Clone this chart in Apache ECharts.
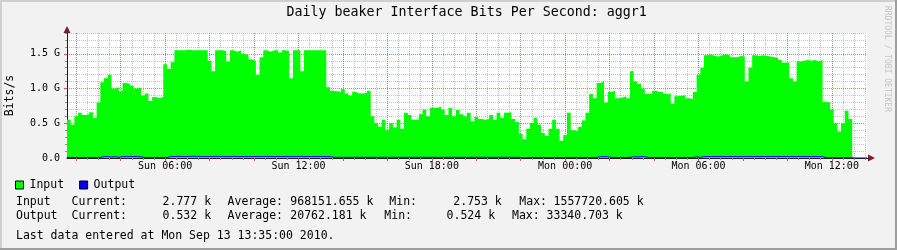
<!DOCTYPE html>
<html><head><meta charset="utf-8">
<script src="https://cdn.jsdelivr.net/npm/echarts@6/dist/echarts.min.js"></script>
<style>html,body{margin:0;padding:0;background:#F2F2F2}#c{width:897px;height:250px}</style>
</head><body><div id="c"></div>
<script>
const titleText = 'Daily beaker Interface Bits Per Second: aggr1';
const startHour = 1 + 35 / 60;   // Sun 01:35
const endHour = 37 + 35 / 60;    // Mon 13:35
const stepHours = 10 / 60;       // 10-minute samples

const inputG = [
  0.55,0.48,0.60,0.65,0.62,0.63,0.66,0.58,0.80,1.09,
  1.15,1.20,1.00,1.02,0.96,1.08,1.07,1.04,1.00,1.01,
  0.90,0.93,0.82,0.88,0.86,0.88,1.35,1.28,1.38,1.55,
  1.55,1.55,1.56,1.55,1.55,1.55,1.55,1.55,1.40,1.25,
  1.55,1.55,1.54,1.39,1.55,1.53,1.55,1.50,1.48,1.42,
  1.40,1.20,1.45,1.55,1.53,1.55,1.55,1.52,1.55,1.54,
  1.15,1.55,1.55,1.25,1.55,1.55,1.55,1.55,1.55,1.55,
  1.02,0.97,0.96,0.95,0.99,0.93,0.90,0.95,0.93,0.93,
  0.94,0.97,0.60,0.50,0.45,0.55,0.40,0.50,0.44,0.55,
  0.42,0.65,0.62,0.55,0.55,0.63,0.70,0.60,0.72,0.72,
  0.74,0.70,0.62,0.72,0.60,0.69,0.63,0.60,0.65,0.53,
  0.59,0.56,0.55,0.56,0.62,0.55,0.65,0.58,0.65,0.66,
  0.56,0.52,0.35,0.27,0.42,0.50,0.58,0.48,0.36,0.32,
  0.42,0.55,0.42,0.25,0.33,0.65,0.40,0.39,0.45,0.54,
  0.65,0.92,0.86,1.08,1.10,0.80,0.95,0.97,0.86,0.87,
  0.89,0.86,1.25,1.10,1.07,1.00,0.92,0.93,0.97,0.95,
  0.95,0.92,0.93,0.78,0.89,0.90,0.90,0.86,0.85,0.95,
  1.20,1.30,1.48,1.49,1.47,1.46,1.48,1.495,1.48,1.45,
  1.45,1.47,1.46,1.10,1.30,1.48,1.47,1.48,1.47,1.46,
  1.45,1.44,1.41,1.37,1.38,1.15,1.10,1.39,1.40,1.41,
  1.40,1.41,1.39,1.41,0.81,0.80,0.70,0.50,0.38,0.50,
  0.68,0.56,0.0000028,0.0000028,0.0000028,0.0000028
];
const outputM = [
  8,8,8,8,8,8,8,8,8,22,
  22,14,20,10,22,22,22,22,22,16,
  8,8,8,8,8,8,8,22,22,23,
  23,22,24,24,24,23,22,22,22,23,
  22,23,22,22,23,22,22,22,22,22,
  22,22,22,23,22,22,22,22,22,22,
  22,22,23,22,22,22,22,22,22,22,
  22,10,10,10,10,10,10,10,10,10,
  10,10,10,10,10,10,10,10,10,10,
  10,10,10,10,10,10,10,10,10,10,
  10,10,10,10,10,10,10,10,10,10,
  10,10,10,10,10,10,10,10,10,10,
  10,10,3,3,8,8,8,8,8,5,
  8,8,8,5,8,8,8,8,8,8,
  8,8,8,20,20,20,8,8,8,8,
  8,8,20,16,20,20,8,8,8,8,
  8,8,8,8,8,8,8,8,8,18,
  8,22,22,22,22,22,22,22,22,22,
  22,22,22,22,22,22,22,22,22,22,
  22,22,22,22,22,22,22,22,22,22,
  22,22,22,22,4,4,4,4,4,4,
  4,4,0.0005,0.0005,0.0005,0.0005
];

const xLabelValues = [6, 12, 18, 24, 30, 36];
const xLabelTexts = ['Sun 06:00', 'Sun 12:00', 'Sun 18:00', 'Mon 00:00', 'Mon 06:00', 'Mon 12:00'];
const yLabelValues = [0, 0.5, 1.0, 1.5];
const yLabelTexts = ['0.0', '0.5 G', '1.0 G', '1.5 G'];
const legendNames = ['Input', 'Output'];
const statLines = [
  [['Input', 16], ['Current:', 71.6], ['2.777 k', 162.6], ['Average:', 227.6], ['968151.655 k', 290.3], ['Min:', 389.3], ['2.753 k', 453.3], ['Max:', 519.3], ['1557720.605 k', 553.6]],
  [['Output', 16], ['Current:', 71.6], ['0.532 k', 162.6], ['Average:', 227.6], ['20762.181 k', 290.3], ['Min:', 384.3], ['0.524 k', 446.6], ['Max:', 512], ['33340.703 k', 546.6]]
];
const lastDataText = 'Last data entered at Mon Sep 13 13:35:00 2010.';

// every 30 min from 02:00 (every 4th one is a 2-hour major line)
const xGridTicks = [];
for (let h = 2; h <= 37.5; h += 0.5) xGridTicks.push(h);
const xMajorTicks = [];
for (let h = 2; h <= 36; h += 2) xMajorTicks.push(h);
// every 0.1 G from 0.1 (every 5th one is a 0.5 G major line)
const yGridTicks = [0.1,0.2,0.3,0.4,0.5,0.6,0.7,0.8,0.9,1.0,1.1,1.2,1.3,1.4,1.5,1.6,1.7,1.8];
const yMajorTicks = [0.5, 1.0, 1.5];

const inputData = inputG.map((v, i) => [startHour + i * stepHours, v]);
inputData.push([endHour, inputG[inputG.length - 1]]);
const outputData = outputM.map((v, i) => [startHour + i * stepHours, v / 1000]);
outputData.push([endHour, outputM[outputM.length - 1] / 1000]);

const FONT = 'DejaVu Sans Mono';
const GRID_C = '#C4C4C4';
const MGRID_C = '#EA7474';

const graphics = [
  { type: 'line', shape: { x1: 0, y1: 1, x2: 896, y2: 1 }, style: { stroke: '#CFCFCF', lineWidth: 2 } },
  { type: 'line', shape: { x1: 1, y1: 0, x2: 1, y2: 249 }, style: { stroke: '#CFCFCF', lineWidth: 2 } },
  { type: 'line', shape: { x1: 0, y1: 249, x2: 897, y2: 249 }, style: { stroke: '#9E9E9E', lineWidth: 2 } },
  { type: 'line', shape: { x1: 896, y1: 0, x2: 896, y2: 250 }, style: { stroke: '#9E9E9E', lineWidth: 2 } },
  { type: 'polygon', shape: { points: [[63.5, 33], [70.5, 33], [67, 26]] }, style: { fill: '#801F1F' } },
  { type: 'polygon', shape: { points: [[868, 154.5], [868, 161.5], [875, 158]] }, style: { fill: '#801F1F' } },
  { type: 'line', shape: { x1: 867, y1: 158.5, x2: 869, y2: 158.5 }, style: { stroke: '#1F1F1F', lineWidth: 1 } },
  { type: 'text', x: 10.5, y: 95.5, rotation: Math.PI / 2,
    style: { text: 'Bits/s', font: '11.5px "DejaVu Sans Mono"', fill: '#000', align: 'center', verticalAlign: 'middle' } },
  { type: 'text', x: 887, y: 59, rotation: -Math.PI / 2,
    style: { text: 'RRDTOOL / TOBI OETIKER', font: '8px "DejaVu Sans Mono"', fill: '#C4C4C4', align: 'center', verticalAlign: 'middle' } },
  { type: 'text', x: 16, y: 235.6,
    style: { text: lastDataText, font: '11.5px "DejaVu Sans Mono"', fill: '#000', align: 'left', verticalAlign: 'middle' } }
];
statLines.forEach((segs, r) => {
  segs.forEach(([t, x]) => graphics.push({ type: 'text', x: x, y: r === 0 ? 201.6 : 215.6,
    style: { text: t, font: '11.5px "DejaVu Sans Mono"', fill: '#000', align: 'left', verticalAlign: 'middle' } }));
});

const chart = echarts.init(document.getElementById('c'), null, { renderer: 'canvas' });
chart.setOption({
  animation: false,
  backgroundColor: '#F2F2F2',
  textStyle: { fontFamily: FONT },
  title: { text: titleText, left: 286.5, top: 5, padding: 0,
    textStyle: { fontFamily: FONT, fontSize: 13.3, fontWeight: 'normal', color: '#000', lineHeight: 16 } },
  legend: {
    data: legendNames.map(n => ({ name: n, icon: 'rect' })),
    left: 15, top: 179, padding: 0, itemWidth: 8, itemHeight: 8, itemGap: 15,
    itemStyle: { borderColor: '#000', borderWidth: 1 },
    textStyle: { fontFamily: FONT, fontSize: 11.5, color: '#000', padding: [0, 0, 0, 1] }
  },
  grid: { left: 67, right: 30, top: 33, bottom: 92, show: true, backgroundColor: '#FFFFFF', borderWidth: 0 },
  xAxis: [
    { type: 'value', min: startHour, max: endHour, z: 1,
      axisLine: { show: true, lineStyle: { color: '#1F1F1F', width: 1 } },
      axisTick: { show: true, customValues: xGridTicks, length: 2, lineStyle: { color: '#8F8F8F' } },
      axisLabel: { show: true, customValues: xLabelValues, margin: 3, fontFamily: FONT, fontSize: 10, color: '#000',
        formatter: v => { const k = xLabelValues.indexOf(v); return k >= 0 ? xLabelTexts[k] : ''; } },
      splitLine: { show: true, lineStyle: { color: [MGRID_C, GRID_C, GRID_C, GRID_C], type: [1, 1], width: 1 } } },
    { type: 'value', min: startHour, max: endHour, position: 'bottom', z: 1,
      axisLine: { show: false },
      axisTick: { show: true, customValues: xMajorTicks, length: 3, lineStyle: { color: '#DE4F4F' } },
      axisLabel: { show: false }, splitLine: { show: false } }
  ],
  yAxis: [
    { type: 'value', min: 0, max: 1.8, z: 1,
      axisLine: { show: true, lineStyle: { color: '#1F1F1F', width: 1 } },
      axisTick: { show: true, customValues: yGridTicks, length: 2, lineStyle: { color: '#8F8F8F' } },
      axisLabel: { show: true, customValues: yLabelValues, margin: 7, fontFamily: FONT, fontSize: 10, color: '#000',
        formatter: v => { const k = yLabelValues.findIndex(x => Math.abs(x - v) < 1e-6); return k >= 0 ? yLabelTexts[k] : ''; } },
      splitLine: { show: true, lineStyle: { color: [GRID_C, GRID_C, GRID_C, GRID_C, MGRID_C], type: [1, 1], width: 1 } } },
    { type: 'value', min: 0, max: 1.8, position: 'left', z: 1,
      axisLine: { show: false },
      axisTick: { show: true, customValues: yMajorTicks, length: 3, lineStyle: { color: '#DE4F4F' } },
      axisLabel: { show: false }, splitLine: { show: false } }
  ],
  series: [
    { name: 'Input', type: 'line', step: 'end', symbol: 'none', z: 10,
      color: '#00FF00', itemStyle: { color: '#00FF00' },
      lineStyle: { width: 0, color: '#00FF00' },
      areaStyle: { color: '#00FF00', opacity: 1 },
      data: inputData },
    { name: 'Output', type: 'line', step: 'end', symbol: 'none', z: 11,
      color: '#0000FF', itemStyle: { color: '#0000FF' },
      lineStyle: { width: 1, color: '#0000FF' },
      data: outputData }
  ],
  graphic: graphics
});
</script>
</body></html>
